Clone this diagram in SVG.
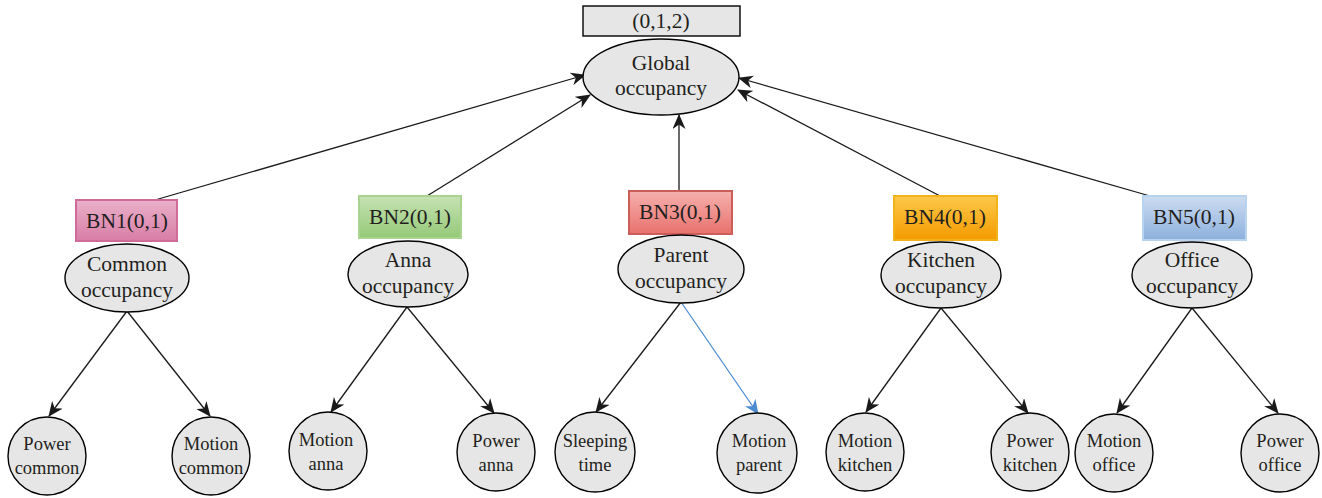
<svg xmlns="http://www.w3.org/2000/svg" width="1322" height="498" viewBox="0 0 1322 498">
<style>
text{font-family:"Liberation Serif","Times New Roman",serif;fill:#231f20;text-anchor:middle}
.big{font-size:21.5px}
.small{font-size:18.5px}
.node{fill:#e6e6e6;stroke:#000;stroke-width:1.4}
.edge{stroke:#1a1a1a;stroke-width:1.3;fill:none;marker-end:url(#ah)}
.blue{stroke:#4a8bd0;stroke-width:1.3;fill:none;marker-end:url(#ahb)}
</style>
<defs>
<marker id="ah" markerUnits="userSpaceOnUse" markerWidth="15" markerHeight="13" refX="14" refY="6.5" orient="auto"><path d="M0,0 L15,6.5 L0,13 L4.5,6.5 z" fill="#1a1a1a"/></marker>
<marker id="ahb" markerUnits="userSpaceOnUse" markerWidth="15" markerHeight="13" refX="14" refY="6.5" orient="auto"><path d="M0,0 L15,6.5 L0,13 L4.5,6.5 z" fill="#4a8bd0"/></marker>
<linearGradient id="gPink" x1="0" y1="0" x2="0" y2="1"><stop offset="0" stop-color="#eab0c9"/><stop offset="1" stop-color="#d87da6"/></linearGradient>
<linearGradient id="gGreen" x1="0" y1="0" x2="0" y2="1"><stop offset="0" stop-color="#c6e2b3"/><stop offset="1" stop-color="#95c978"/></linearGradient>
<linearGradient id="gRed" x1="0" y1="0" x2="0" y2="1"><stop offset="0" stop-color="#f6b1ae"/><stop offset="1" stop-color="#e8716d"/></linearGradient>
<linearGradient id="gOrange" x1="0" y1="0" x2="0" y2="1"><stop offset="0" stop-color="#fdc94a"/><stop offset="1" stop-color="#f49a00"/></linearGradient>
<linearGradient id="gBlue" x1="0" y1="0" x2="0" y2="1"><stop offset="0" stop-color="#cddcf1"/><stop offset="1" stop-color="#8cb0dc"/></linearGradient>
</defs>

<g id="connectors">
<line class="edge" x1="155" y1="200" x2="585" y2="75"/>
<line class="edge" x1="427" y1="196" x2="590" y2="95"/>
<line class="edge" x1="679" y1="191" x2="679" y2="115"/>
<line class="edge" x1="940" y1="196" x2="738" y2="90"/>
<line class="edge" x1="1150" y1="196" x2="739" y2="78"/>
<line class="edge" x1="127" y1="311" x2="49" y2="416"/>
<line class="edge" x1="127" y1="311" x2="210" y2="416"/>
<line class="edge" x1="407" y1="307" x2="331" y2="412"/>
<line class="edge" x1="407" y1="307" x2="494" y2="413"/>
<line class="edge" x1="681" y1="302" x2="596" y2="412"/>
<line class="blue" x1="681" y1="302" x2="758" y2="414"/>
<line class="edge" x1="941" y1="308" x2="866" y2="412"/>
<line class="edge" x1="941" y1="308" x2="1028" y2="413"/>
<line class="edge" x1="1192" y1="308" x2="1117" y2="413"/>
<line class="edge" x1="1192" y1="308" x2="1278" y2="413"/>
</g>

<g id="global">
<rect x="583" y="6" width="157" height="30" fill="#e6e6e6" stroke="#000" stroke-width="1.4"/>
<text class="big" x="661" y="28">(0,1,2)</text>
<ellipse class="node" cx="661" cy="77" rx="78" ry="38"/>
<text class="big" x="661" y="70">Global</text>
<text class="big" x="661" y="95">occupancy</text>
</g>

<g id="bn1">
<rect x="76" y="200" width="101" height="41" fill="url(#gPink)" stroke="#cf6b98" stroke-width="2"/>
<text class="big" x="127" y="228">BN1(0,1)</text>
<ellipse class="node" cx="127" cy="278" rx="62" ry="34"/>
<text class="big" x="127" y="271">Common</text>
<text class="big" x="127" y="297">occupancy</text>
</g>

<g id="bn2">
<rect x="359" y="196" width="102" height="42" fill="url(#gGreen)" stroke="#a9d38f" stroke-width="2"/>
<text class="big" x="410" y="224">BN2(0,1)</text>
<ellipse class="node" cx="408" cy="274" rx="60" ry="33"/>
<text class="big" x="408" y="267">Anna</text>
<text class="big" x="408" y="293">occupancy</text>
</g>

<g id="bn3">
<rect x="629" y="191" width="103" height="43" fill="url(#gRed)" stroke="#cc5e5a" stroke-width="2"/>
<text class="big" x="680" y="219">BN3(0,1)</text>
<ellipse class="node" cx="681" cy="269" rx="63" ry="34"/>
<text class="big" x="681" y="262">Parent</text>
<text class="big" x="681" y="288">occupancy</text>
</g>

<g id="bn4">
<rect x="894" y="196" width="103" height="44" fill="url(#gOrange)" stroke="#f2b21a" stroke-width="2"/>
<text class="big" x="945" y="224">BN4(0,1)</text>
<ellipse class="node" cx="941" cy="275" rx="60" ry="33"/>
<text class="big" x="941" y="267">Kitchen</text>
<text class="big" x="941" y="293">occupancy</text>
</g>

<g id="bn5">
<rect x="1143" y="196" width="103" height="44" fill="url(#gBlue)" stroke="#b8d3f0" stroke-width="2"/>
<text class="big" x="1194" y="224">BN5(0,1)</text>
<ellipse class="node" cx="1192" cy="275" rx="60" ry="33"/>
<text class="big" x="1192" y="267">Office</text>
<text class="big" x="1192" y="293">occupancy</text>
</g>

<g id="power-common"><circle class="node" cx="47" cy="456" r="39"/><text class="small" x="47" y="450">Power</text><text class="small" x="47" y="474">common</text></g>
<g id="motion-common"><circle class="node" cx="211" cy="456" r="39"/><text class="small" x="211" y="450">Motion</text><text class="small" x="211" y="474">common</text></g>
<g id="motion-anna"><circle class="node" cx="328" cy="451" r="39"/><text class="small" x="326" y="446">Motion</text><text class="small" x="326" y="470">anna</text></g>
<g id="power-anna"><circle class="node" cx="496" cy="452" r="39"/><text class="small" x="496" y="447">Power</text><text class="small" x="496" y="471">anna</text></g>
<g id="sleeping-time"><circle class="node" cx="595" cy="452" r="40"/><text class="small" x="595" y="447">Sleeping</text><text class="small" x="595" y="471">time</text></g>
<g id="motion-parent"><circle class="node" cx="757" cy="453" r="40"/><text class="small" x="759" y="447">Motion</text><text class="small" x="759" y="471">parent</text></g>
<g id="motion-kitchen"><circle class="node" cx="865" cy="452" r="39"/><text class="small" x="865" y="447">Motion</text><text class="small" x="865" y="471">kitchen</text></g>
<g id="power-kitchen"><circle class="node" cx="1030" cy="452" r="39"/><text class="small" x="1030" y="447">Power</text><text class="small" x="1030" y="471">kitchen</text></g>
<g id="motion-office"><circle class="node" cx="1114" cy="453" r="39"/><text class="small" x="1114" y="447">Motion</text><text class="small" x="1114" y="471">office</text></g>
<g id="power-office"><circle class="node" cx="1280" cy="453" r="39"/><text class="small" x="1280" y="447">Power</text><text class="small" x="1280" y="471">office</text></g>
</svg>
